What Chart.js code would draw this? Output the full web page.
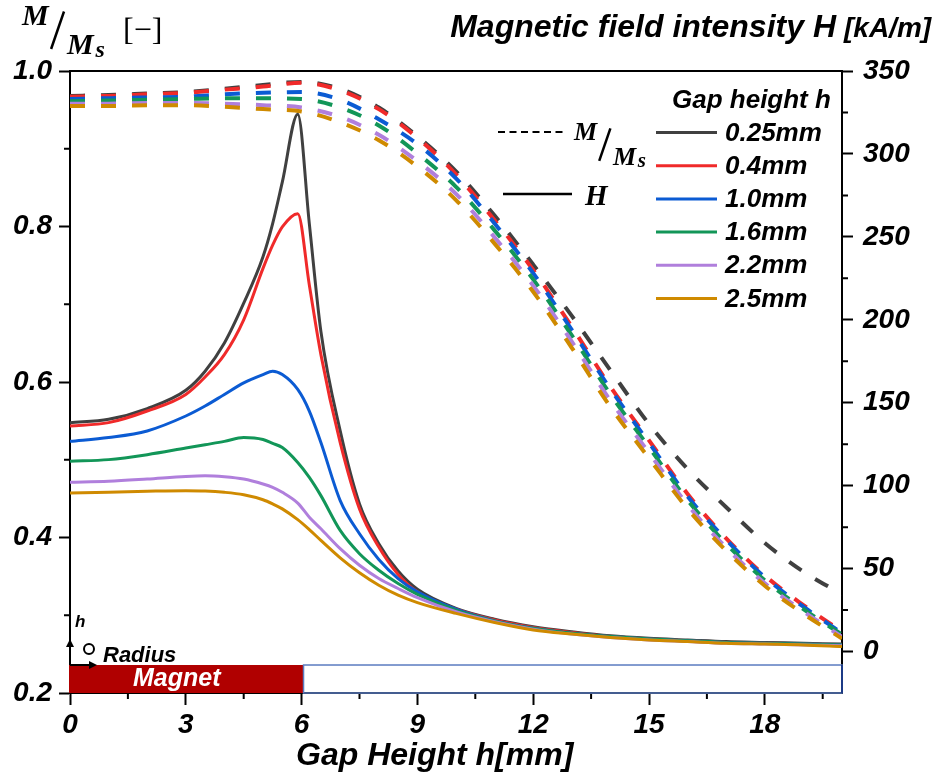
<!DOCTYPE html>
<html>
<head>
<meta charset="utf-8">
<script src="https://cdn.jsdelivr.net/npm/chart.js@4.4.0/dist/chart.umd.min.js"></script>
<style>
  html, body { margin: 0; padding: 0; background: #fff; }
  #wrap { width: 938px; height: 778px; }
</style>
</head>
<body>
<div id="wrap"><canvas id="grafico" width="938" height="778"></canvas></div>
<script>
// Gap heights (series)
const gaps = ['0.25mm', '0.4mm', '1.0mm', '1.6mm', '2.2mm', '2.5mm'];
const colores = ['#404040', '#f02a2a', '#0b5bd3', '#129658', '#b07fdc', '#cf8a00'];

// Magnetic field intensity H [kA/m] (solid lines, right axis)
const xH = [0, 1, 2, 3, 3.5, 4, 4.5, 5, 5.25, 5.5, 5.9, 6.2, 6.5, 7, 7.5, 8, 8.5, 9, 10, 11, 12, 13, 14, 15, 16, 17, 18, 19, 20];
const H_025 = [138, 140, 146.5, 157.5, 169, 186, 210, 238, 258, 283, 324, 258, 193, 133, 89, 65, 48.5, 37.5, 26, 19.5, 15, 12, 9.5, 8, 7, 6, 5.5, 5, 4.5];
const H_04  = [136, 138, 145, 155, 165.5, 179, 200, 231, 245, 256, 264, 221, 179, 126, 86, 63, 46.5, 36, 25.5, 19, 14.5, 11.5, 9, 7.5, 6.5, 5.5, 5, 4.5, 4];
const H_10  = [126.7, 129, 133, 142, 148, 155, 162, 167, 169, 167, 158, 145, 126, 91, 71, 55.5, 44, 36, 25.5, 18.5, 14, 11, 9, 7.5, 6.5, 5.5, 5, 4.5, 4];
const H_16  = [114.7, 115.7, 118.7, 122.7, 124.7, 126.7, 129, 127.8, 125.5, 123, 114, 105, 94, 73, 59, 49, 41, 34.5, 25, 18.5, 14, 11, 9, 7.5, 6.5, 5.5, 5, 4.5, 4];
const H_22  = [102, 102.6, 104, 105.6, 106, 105.4, 104, 101, 99, 96, 89.5, 81, 74, 62, 52, 44, 38, 32.5, 24, 18, 13.5, 10.5, 8.5, 7, 6, 5, 4.5, 4, 3.5];
const H_25  = [95.6, 96, 96.6, 97, 96.8, 96, 94.5, 91.5, 89, 86, 79.5, 73.5, 67, 56.5, 47.5, 40, 34, 29.5, 23, 17.5, 13, 10.5, 8.5, 7, 6, 5, 4.5, 4, 3];

// Magnetisation ratio M/Ms [-] (dashed lines, left axis)
const xM = [0, 1, 2, 3, 4, 5, 6, 7, 8, 9, 10, 11, 12, 13, 14, 15, 16, 17, 18, 19, 20];
const M_025 = [0.968, 0.969, 0.971, 0.973, 0.977, 0.982, 0.986, 0.977, 0.953, 0.916, 0.871, 0.814, 0.751, 0.685, 0.615, 0.546, 0.488, 0.439, 0.393, 0.356, 0.327];
const M_04  = [0.967, 0.968, 0.970, 0.972, 0.976, 0.980, 0.985, 0.975, 0.951, 0.914, 0.867, 0.808, 0.744, 0.671, 0.594, 0.525, 0.456, 0.399, 0.351, 0.313, 0.279];
const M_10  = [0.964, 0.965, 0.966, 0.967, 0.970, 0.972, 0.973, 0.963, 0.938, 0.906, 0.862, 0.804, 0.740, 0.667, 0.591, 0.522, 0.453, 0.397, 0.349, 0.311, 0.277];
const M_16  = [0.961, 0.962, 0.963, 0.964, 0.965, 0.965, 0.964, 0.953, 0.930, 0.894, 0.851, 0.795, 0.732, 0.660, 0.584, 0.516, 0.448, 0.392, 0.345, 0.308, 0.275];
const M_22  = [0.958, 0.958, 0.959, 0.959, 0.958, 0.956, 0.953, 0.941, 0.918, 0.884, 0.842, 0.786, 0.724, 0.652, 0.576, 0.509, 0.442, 0.387, 0.341, 0.305, 0.272];
const M_25  = [0.955, 0.955, 0.956, 0.956, 0.954, 0.951, 0.948, 0.934, 0.911, 0.877, 0.834, 0.778, 0.716, 0.644, 0.568, 0.502, 0.437, 0.383, 0.338, 0.302, 0.270];

// Ticks
const xTicks = [0, 3, 6, 9, 12, 15, 18];
const xMinor = [1.5, 4.5, 7.5, 10.5, 13.5, 16.5, 19.5];
const mTicks = [0.2, 0.4, 0.6, 0.8, 1.0];
const mMinor = [0.3, 0.5, 0.7, 0.9];
const hTicks = [0, 50, 100, 150, 200, 250, 300, 350];
const hMinor = [25, 75, 125, 175, 225, 275, 325];

// Magnet block under the gap (mm / M/Ms units)
const magnetEnd = 6.05;
const magnetTop = 0.236;

const seriesH = [H_025, H_04, H_10, H_16, H_22, H_25];
const seriesM = [M_025, M_04, M_10, M_16, M_22, M_25];

const SANS = '"Liberation Sans", Arial, sans-serif';
const SERIF = '"Liberation Serif", "Times New Roman", serif';

function puntos(xs, ys) {
    return xs.map((x, i) => ({ x: x, y: ys[i] }));
}

const datasets = [];
gaps.forEach((g, i) => {
    datasets.push({
        label: 'H ' + g,
        data: puntos(xH, seriesH[i]),
        yAxisID: 'yH',
        borderColor: colores[i],
        borderWidth: 3,
        pointRadius: 0,
        fill: false,
        cubicInterpolationMode: 'monotone',
        order: 10 - i
    });
    datasets.push({
        label: 'M/Ms ' + g,
        data: puntos(xM, seriesM[i]),
        yAxisID: 'y',
        borderColor: colores[i],
        borderWidth: 4,
        borderDash: [15, 16],
        pointRadius: 0,
        fill: false,
        cubicInterpolationMode: 'monotone',
        order: 20 - i
    });
});

function fijarTicks(valores) {
    return function (scale) {
        scale.ticks = valores.map(v => ({ value: v }));
    };
}

// Slash fraction "M / Ms"
function fraccion(ctx, x, y, size) {
    ctx.font = 'italic bold ' + size + 'px ' + SERIF;
    ctx.textAlign = 'left';
    ctx.textBaseline = 'alphabetic';
    ctx.fillText('M', x, y);
    ctx.lineWidth = 2.5;
    ctx.beginPath();
    ctx.moveTo(x + size * 0.97, y + size * 0.8);
    ctx.lineTo(x + size * 1.4, y - size * 0.45);
    ctx.stroke();
    ctx.fillText('M', x + size * 1.5, y + size * 0.95);
    ctx.font = 'italic bold ' + Math.round(size * 0.8) + 'px ' + SERIF;
    ctx.fillText('s', x + size * 2.45, y + size * 1.05);
}

const extras = {
    id: 'extras',
    afterDraw(chart) {
        const ctx = chart.ctx;
        const { left, right, top, bottom } = chart.chartArea;
        const sx = chart.scales.x, sm = chart.scales.y, sh = chart.scales.yH;
        ctx.save();
        ctx.strokeStyle = '#000';
        ctx.fillStyle = '#000';

        // top frame line
        ctx.lineWidth = 2;
        ctx.beginPath();
        ctx.moveTo(left, top);
        ctx.lineTo(right, top);
        ctx.stroke();

        // minor ticks
        ctx.lineWidth = 2;
        ctx.beginPath();
        xMinor.forEach(v => {
            const p = sx.getPixelForValue(v);
            ctx.moveTo(p, bottom); ctx.lineTo(p, bottom + 6);
        });
        mMinor.forEach(v => {
            const p = sm.getPixelForValue(v);
            ctx.moveTo(left - 6, p); ctx.lineTo(left, p);
        });
        hMinor.forEach(v => {
            const p = sh.getPixelForValue(v);
            ctx.moveTo(right, p); ctx.lineTo(right + 6, p);
        });
        ctx.stroke();

        // magnet block
        const xe = sx.getPixelForValue(magnetEnd);
        const yt = sm.getPixelForValue(magnetTop);
        ctx.fillStyle = '#b00000';
        ctx.fillRect(left - 1, yt, xe - left + 1, bottom - yt);
        ctx.strokeStyle = '#5b7cc0';
        ctx.lineWidth = 1.5;
        ctx.strokeRect(xe, yt, right - xe, bottom - yt);
        ctx.strokeStyle = '#1c3a86';
        ctx.lineWidth = 2;
        ctx.beginPath();
        ctx.moveTo(right, yt); ctx.lineTo(right, bottom);
        ctx.stroke();
        ctx.fillStyle = '#fff';
        ctx.font = 'italic bold 25px ' + SANS;
        ctx.textAlign = 'left';
        ctx.textBaseline = 'alphabetic';
        ctx.fillText('Magnet', 133, 686);

        // coordinate sketch
        ctx.fillStyle = '#000';
        ctx.strokeStyle = '#000';
        ctx.lineWidth = 2;
        ctx.beginPath();
        ctx.moveTo(left, yt); ctx.lineTo(left, yt - 20);
        ctx.moveTo(left, yt); ctx.lineTo(left + 22, yt);
        ctx.stroke();
        ctx.beginPath();
        ctx.moveTo(left - 4, yt - 18); ctx.lineTo(left, yt - 26); ctx.lineTo(left + 4, yt - 18);
        ctx.closePath(); ctx.fill();
        ctx.beginPath();
        ctx.moveTo(left + 19, yt - 4); ctx.lineTo(left + 27, yt); ctx.lineTo(left + 19, yt + 4);
        ctx.closePath(); ctx.fill();
        ctx.beginPath();
        ctx.arc(89, 649, 5, 0, Math.PI * 2);
        ctx.stroke();
        ctx.font = 'italic bold 17px ' + SANS;
        ctx.fillText('h', 75, 627);
        ctx.font = 'italic bold 22px ' + SANS;
        ctx.fillText('Radius', 103, 662);

        // axis titles
        ctx.font = 'italic bold 32px ' + SANS;
        ctx.fillText('Gap Height h[mm]', 296, 765);
        ctx.textAlign = 'right';
        ctx.fillText('Magnetic field intensity H', 836, 37);
        ctx.textAlign = 'left';
        ctx.font = 'italic bold 28px ' + SANS;
        ctx.fillText('[kA/m]', 844, 37);

        // left title M/Ms [-]
        fraccion(ctx, 22, 25, 30);
        ctx.font = '32px ' + SERIF;
        ctx.fillText('[\u2212]', 123, 40);

        // line style legend
        ctx.lineWidth = 2;
        ctx.setLineDash([7, 4.5]);
        ctx.beginPath();
        ctx.moveTo(498, 132); ctx.lineTo(566, 132);
        ctx.stroke();
        ctx.setLineDash([]);
        ctx.lineWidth = 2.5;
        ctx.beginPath();
        ctx.moveTo(503, 194); ctx.lineTo(572, 194);
        ctx.stroke();
        fraccion(ctx, 574, 140, 26);
        ctx.font = 'italic bold 29px ' + SERIF;
        ctx.fillText('H', 585, 205);

        // gap legend
        ctx.font = 'italic bold 26px ' + SANS;
        ctx.fillText('Gap height h', 672, 108);
        gaps.forEach((g, i) => {
            const y = 132.5 + i * 33.2;
            ctx.strokeStyle = colores[i];
            ctx.lineWidth = 3;
            ctx.beginPath();
            ctx.moveTo(656, y); ctx.lineTo(717, y);
            ctx.stroke();
            ctx.fillStyle = '#000';
            ctx.textBaseline = 'middle';
            ctx.fillText(g, 725, y + 1);
            ctx.textBaseline = 'alphabetic';
        });
        ctx.restore();
    }
};

const tickFont = { family: SANS, size: 28, weight: 'bold', style: 'italic' };
const ejeGrid = { drawOnChartArea: false, drawTicks: true, tickLength: 11, tickWidth: 2, tickColor: '#000' };
const ejeBorde = { display: true, color: '#000', width: 2 };

new Chart(document.getElementById('grafico').getContext('2d'), {
    type: 'line',
    data: { datasets: datasets },
    options: {
        responsive: false,
        animation: false,
        devicePixelRatio: 1,
        layout: { padding: { top: 71, left: 0, right: 0, bottom: 0 } },
        plugins: { legend: { display: false }, tooltip: { enabled: false } },
        scales: {
            x: {
                type: 'linear',
                min: 0, max: 20,
                afterBuildTicks: fijarTicks(xTicks),
                afterFit: s => { s.height = 85; },
                grid: Object.assign({}, ejeGrid, { tickLength: 12 }),
                border: ejeBorde,
                ticks: { font: tickFont, color: '#000', padding: 3, maxRotation: 0 }
            },
            y: {
                type: 'linear',
                position: 'left',
                min: 0.2, max: 1.0,
                afterBuildTicks: fijarTicks(mTicks),
                afterFit: s => { s.width = 70; },
                grid: ejeGrid,
                border: ejeBorde,
                ticks: { font: tickFont, color: '#000', padding: 7, callback: v => v.toFixed(1) }
            },
            yH: {
                type: 'linear',
                position: 'right',
                min: -25, max: 350,
                afterBuildTicks: fijarTicks(hTicks),
                afterFit: s => { s.width = 96; },
                grid: ejeGrid,
                border: ejeBorde,
                ticks: { font: tickFont, color: '#000', padding: 10 }
            }
        }
    },
    plugins: [extras]
});
</script>
</body>
</html>
